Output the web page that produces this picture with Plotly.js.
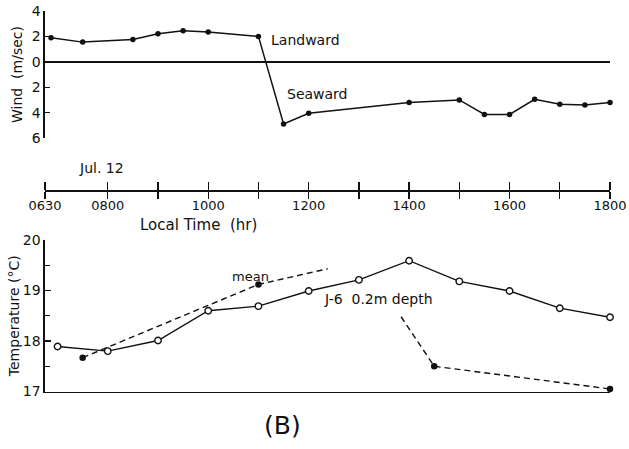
<!DOCTYPE html>
<html>
<head>
<meta charset="utf-8">
<script src="https://cdn.plot.ly/plotly-3.0.1.min.js"></script>
<style>
  html, body { margin: 0; padding: 0; background: #fff; }
  #chart { width: 629px; height: 449px; }
</style>
</head>
<body>
<div id="chart"></div>
<script>
// ---- data ----
// time in decimal hours (local time)
const windTime  = [6.87, 7.5, 8.5, 9.0, 9.5, 10.0, 11.0, 11.5, 12.0, 14.0, 15.0, 15.5, 16.0, 16.5, 17.0, 17.5, 18.0];
// wind speed (m/sec): positive = landward, negative = seaward
const windSpeed = [1.9, 1.55, 1.75, 2.2, 2.45, 2.35, 2.0, -4.9, -4.05, -3.2, -3.0, -4.15, -4.15, -2.95, -3.35, -3.4, -3.2];

// J-6 0.2 m depth temperature (°C)
const j6Time = [7, 8, 9, 10, 11, 12, 13, 14, 15, 16, 17, 18];
const j6Temp = [17.89, 17.8, 18.01, 18.6, 18.69, 18.99, 19.21, 19.59, 19.18, 18.99, 18.65, 18.47];

// mean temperature: dashed curve (with a gap) and its measured points
const meanCurveTime = [7.5, 11.0, 12.38, null, 13.84, 14.5, 18.0];
const meanCurveTemp = [17.67, 19.12, 19.43, null, 18.48, 17.5, 17.05];
const meanTime = [7.5, 11.0, 14.5, 18.0];
const meanTemp = [17.67, 19.12, 17.5, 17.05];

// axis tick labels
const timeTickVals = [6.75, 8, 9, 10, 11, 12, 13, 14, 15, 16, 17, 18];
const timeTickText = ['0630', '0800', '', '1000', '', '1200', '', '1400', '', '1600', '', '1800'];
const windTickVals = [4, 2, 0, -2, -4, -6];
const windTickText = ['4', '2', '0', '2', '4', '6'];
const tempTickVals = [17, 18, 19, 20];
const tempTickText = ['17', '18', '19', '20'];

// ---- layout helpers (pixel -> paper) ----
const W = 629, H = 449, ML = 45, MR = 19;
const px = v => (v - ML) / (W - ML - MR);
const py = v => 1 - v / H;

const INK = '#111';
const FONT = 'DejaVu Sans, sans-serif';
const tRange = [6.75, 18];

const traces = [
  { x: windTime, y: windSpeed, xaxis: 'x', yaxis: 'y', type: 'scatter', mode: 'lines+markers',
    line: { color: INK, width: 1.5 }, marker: { color: INK, size: 5.5 }, cliponaxis: false, hoverinfo: 'skip' },
  { x: timeTickVals, y: timeTickVals.map(() => null), xaxis: 'x3', yaxis: 'y', type: 'scatter', mode: 'markers',
    hoverinfo: 'skip', showlegend: false },
  { x: meanCurveTime, y: meanCurveTemp, xaxis: 'x2', yaxis: 'y2', type: 'scatter', mode: 'lines',
    connectgaps: false, line: { color: INK, width: 1.4, dash: '6px,4px' }, cliponaxis: false, hoverinfo: 'skip' },
  { x: meanTime, y: meanTemp, xaxis: 'x2', yaxis: 'y2', type: 'scatter', mode: 'markers',
    marker: { color: INK, size: 6.5 }, cliponaxis: false, hoverinfo: 'skip' },
  { x: j6Time, y: j6Temp, xaxis: 'x2', yaxis: 'y2', type: 'scatter', mode: 'lines+markers',
    line: { color: INK, width: 1.4 },
    marker: { color: '#fff', size: 6.5, line: { color: INK, width: 1.4 } }, cliponaxis: false, hoverinfo: 'skip' }
];

const ann = (text, xp, yp, size, extra) => Object.assign({
  text: text, xref: 'paper', yref: 'paper', x: px(xp), y: py(yp),
  xanchor: 'center', yanchor: 'middle', showarrow: false,
  font: { family: FONT, size: size, color: INK }
}, extra || {});

const layout = {
  width: W, height: H,
  margin: { l: ML, r: MR, t: 0, b: 0 },
  paper_bgcolor: '#fff', plot_bgcolor: 'rgba(0,0,0,0)',
  showlegend: false,
  font: { family: FONT, color: INK, size: 13 },
  // time axis (belongs to wind panel, drawn between the panels)
  xaxis: {
    domain: [0, 1], range: tRange, autorange: false, anchor: 'free', position: py(190),
    showgrid: false, zeroline: false, showline: true, linecolor: INK, linewidth: 1.6,
    tickmode: 'array', tickvals: timeTickVals, ticktext: timeTickText,
    ticks: 'outside', ticklen: 7, tickwidth: 1.4, tickcolor: INK, ticklabelstandoff: -4,
    tickfont: { family: FONT, size: 13, color: INK }
  },
  xaxis3: {
    overlaying: 'x', side: 'top', range: tRange, autorange: false, anchor: 'free', position: py(190),
    showgrid: false, zeroline: false, showline: false,
    tickmode: 'array', tickvals: timeTickVals, showticklabels: false,
    ticks: 'outside', ticklen: 8, tickwidth: 1.4, tickcolor: INK
  },
  yaxis: {
    domain: [py(138), py(11)], range: [-6, 4], autorange: false, anchor: 'x',
    showgrid: false, zeroline: true, zerolinecolor: INK, zerolinewidth: 1.6,
    showline: true, linecolor: INK, linewidth: 1.6,
    tickmode: 'array', tickvals: windTickVals, ticktext: windTickText,
    ticks: 'inside', ticklen: 5, tickwidth: 1.4, tickcolor: INK,
    tickfont: { family: FONT, size: 14, color: INK },
    title: { text: 'Wind  (m/sec)', font: { family: FONT, size: 14, color: INK }, standoff: 6 }
  },
  xaxis2: {
    domain: [0, 1], range: tRange, autorange: false, anchor: 'y2',
    showgrid: false, zeroline: false, showline: true, linecolor: INK, linewidth: 1.6,
    ticks: '', showticklabels: false
  },
  yaxis2: {
    domain: [py(391.5), py(240)], range: [17, 20], autorange: false, anchor: 'x2',
    showgrid: false, zeroline: false, showline: true, linecolor: INK, linewidth: 1.6,
    tickmode: 'array', tickvals: tempTickVals, ticktext: tempTickText,
    ticks: 'inside', ticklen: 6, tickwidth: 1.4, tickcolor: INK,
    minor: { dtick: 0.5, ticks: 'inside', ticklen: 5, tickwidth: 1.3, tickcolor: INK, showgrid: false },
    tickfont: { family: FONT, size: 14, color: INK },
    title: { text: 'Temperature (°C)', font: { family: FONT, size: 14, color: INK }, standoff: 0 }
  },
  annotations: [
    ann('Landward', 305.5, 40, 14),
    ann('Seaward', 317.5, 94, 14),
    ann('Jul. 12', 101.6, 168, 14),
    ann('Local Time  (hr)', 198.5, 225, 15),
    ann('mean', 250.8, 276, 13),
    ann('J-6  0.2m depth', 378, 299, 14),
    ann('(B)', 282.5, 425, 25)
  ]
};

Plotly.newPlot('chart', traces, layout, { staticPlot: true, displayModeBar: false });
</script>
</body>
</html>
